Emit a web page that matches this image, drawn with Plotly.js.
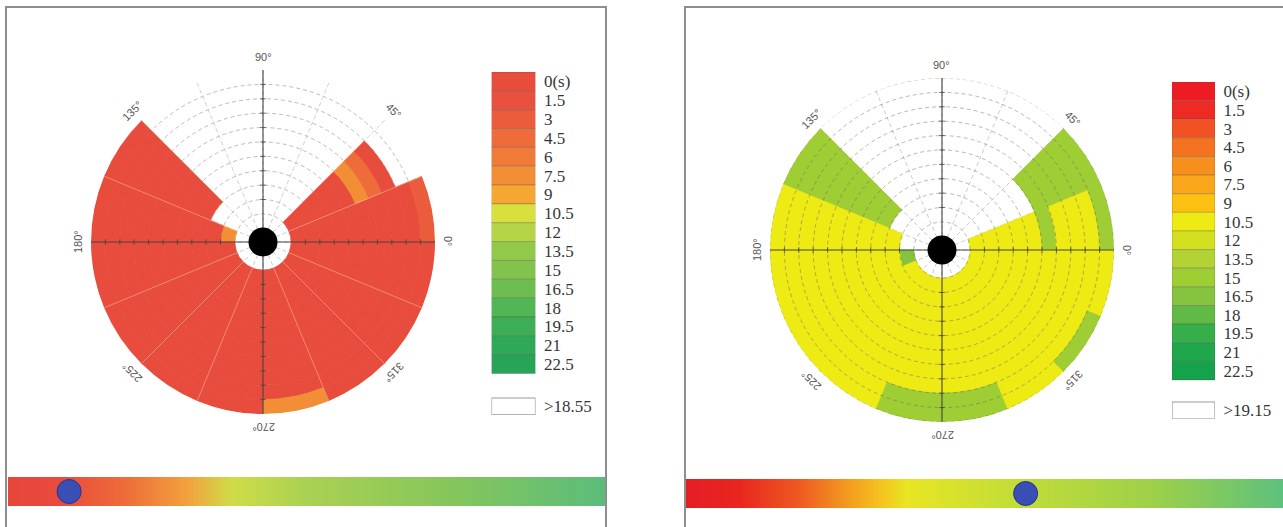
<!DOCTYPE html>
<html>
<head>
<meta charset="utf-8">
<script src="https://cdn.plot.ly/plotly-3.0.1.min.js"></script>
<style>
html,body{margin:0;padding:0;background:#fff;}
#chart{width:1283px;height:527px;}
</style>
</head>
<body>
<div id="chart"></div>
<script>
// ================= DATA =================
// angular sectors (centre angle, degrees) and radial rings
const sectorAngles = [11.25, 33.75, 56.25, 78.75, 101.25, 123.75, 146.25, 168.75,
                      191.25, 213.75, 236.25, 258.75, 281.25, 303.75, 326.25, 348.75];
const sectorWidth = 22.5;
const ringInner = [0, 1, 2, 3, 4, 5, 6, 7, 8, 9];

// legend bins (seconds)
const binStarts = [0, 1.5, 3, 4.5, 6, 7.5, 9, 10.5, 12, 13.5, 15, 16.5, 18, 19.5, 21, 22.5];
const binLabels = ['0(s)', '1.5', '3', '4.5', '6', '7.5', '9', '10.5', '12', '13.5', '15', '16.5', '18', '19.5', '21', '22.5'];

const leftThreshold = 18.55;
const rightThreshold = 19.15;

const leftColors = ['#e84c3d', '#e9503e', '#eb5c3c', '#ee6b3a', '#f07a38', '#f28f36', '#f5a733', '#d8e03e',
                    '#b5d546', '#93c94b', '#82c34e', '#6dbd50', '#52b654', '#3dae56', '#2fa957', '#27a557'];
const rightColors = ['#ed1c24', '#ee2a24', '#f05223', '#f47321', '#f78f1e', '#faa61a', '#fcc010', '#eeea14',
                     '#d3e020', '#b2d235', '#9ecd34', '#86c33f', '#62ba46', '#36ae4a', '#1ea84b', '#14a24a'];

// time per cell: one row per sector (0..337.5 deg), one value per ring (inner -> outer)
const leftTimes = [
  [1, 1, 1, 1, 1, 1, 1, 1, 1, 3.5],
  [1, 1, 1, 1, 1, 8, 5, 1, 20, 20],
  [20, 20, 20, 20, 20, 20, 20, 20, 20, 20],
  [20, 20, 20, 20, 20, 20, 20, 20, 20, 20],
  [20, 20, 20, 20, 20, 20, 20, 20, 20, 20],
  [20, 20, 20, 20, 20, 20, 20, 20, 20, 20],
  [20, 20, 1, 1, 1, 1, 1, 1, 1, 1],
  [8, 1, 1, 1, 1, 1, 1, 1, 1, 1],
  [1, 1, 1, 1, 1, 1, 1, 1, 1, 1],
  [1, 1, 1, 1, 1, 1, 1, 1, 1, 1],
  [1, 1, 1, 1, 1, 1, 1, 1, 1, 1],
  [1, 1, 1, 1, 1, 1, 1, 1, 1, 1],
  [1, 1, 1, 1, 1, 1, 1, 1, 1, 8],
  [1, 1, 1, 1, 1, 1, 1, 1, 1, 1],
  [1, 1, 1, 1, 1, 1, 1, 1, 1, 1],
  [1, 1, 1, 1, 1, 1, 1, 1, 1, 1]
];
const rightTimes = [
  [11, 11, 11, 11, 11, 15.5, 11, 11, 11, 15.5],
  [21, 21, 21, 21, 21, 15.5, 15.5, 15.5, 15.5, 15.5],
  [21, 21, 21, 21, 21, 21, 21, 21, 21, 21],
  [21, 21, 21, 21, 21, 21, 21, 21, 21, 21],
  [21, 21, 21, 21, 21, 21, 21, 21, 21, 21],
  [21, 21, 21, 21, 21, 21, 21, 21, 21, 21],
  [21, 21, 15.5, 15.5, 15.5, 15.5, 15.5, 15.5, 15.5, 15.5],
  [21, 11, 11, 11, 11, 11, 11, 11, 11, 11],
  [17, 11, 11, 11, 11, 11, 11, 11, 11, 11],
  [11, 11, 11, 11, 11, 11, 11, 11, 11, 11],
  [11, 11, 11, 11, 11, 11, 11, 11, 11, 11],
  [11, 11, 11, 11, 11, 11, 11, 11, 15.5, 15.5],
  [11, 11, 11, 11, 11, 11, 11, 11, 15.5, 15.5],
  [11, 11, 11, 11, 11, 11, 11, 11, 11, 11],
  [11, 11, 11, 11, 11, 11, 11, 11, 11, 15.5],
  [11, 11, 11, 11, 11, 11, 11, 11, 11, 11]
];

const angleTicks = [0, 45, 90, 135, 180, 225, 270, 315];

// bottom indicator bars
const barScale = [0, 22.5];
const leftMarkerValue = 2.3;
const rightMarkerValue = 12.8;
const leftBarColors = [[0, '#e8453b'], [0.09, '#e84b3c'], [0.2, '#ee6e3a'], [0.3, '#f2a13e'],
                       [0.375, '#cfdc48'], [0.5, '#aad152'], [0.75, '#84c55c'], [1, '#5bbd7b']];
const rightBarColors = [[0, '#e51d25'], [0.09, '#e8261f'], [0.19, '#ee5a22'], [0.27, '#f39a20'],
                        [0.33, '#f5c61e'], [0.37, '#e9e524'], [0.53, '#c6de35'], [0.78, '#9ed049'], [1, '#5ec17c']];

// ================= LAYOUT HELPERS =================
const W = 1283, H = 527;
const R_PX = 172;            // polar outer radius (px)
const holeR = -1.95;         // radial range start -> white hole around the centre
const rMax = ringInner.length;
const ringEdges = ringInner.concat([rMax]);

function polarDomain(cx, cy) {
  return { x: [(cx - R_PX) / W, (cx + R_PX) / W], y: [(H - cy - R_PX) / H, (H - cy + R_PX) / H] };
}
const leftDom = polarDomain(263, 242);
const rightDom = polarDomain(942, 250);

function binIndex(v) {
  let b = 0;
  binStarts.forEach((x, i) => { if (v >= x) b = i; });
  return b;
}

function cellTrace(times, colors, thr, sub) {
  const th = [], base = [], r = [], col = [];
  times.forEach((ring, s) => ring.forEach((v, k) => {
    if (v > thr) return;
    th.push(sectorAngles[s]); base.push(ringInner[k]); r.push(1);
    col.push(colors[binIndex(v)]);
  }));
  return { type: 'barpolar', subplot: sub, theta: th, r: r, base: base, width: sectorWidth,
           marker: { color: col, line: { color: col, width: 0.6 } }, hoverinfo: 'skip', showlegend: false };
}

function axisTraces(sub) {
  const tr = [];
  tr.push({ type: 'scatterpolar', subplot: sub, mode: 'lines',
    r: [rMax, holeR, rMax, null, rMax, holeR, rMax],
    theta: [0, 0, 180, null, 90, 90, 270],
    line: { color: '#444', width: 1.1 }, hoverinfo: 'skip', showlegend: false });
  const inner = ringEdges.slice(1, -1);
  tr.push({ type: 'scatterpolar', subplot: sub, mode: 'markers',
    r: inner.concat(inner), theta: inner.map(() => 0).concat(inner.map(() => 180)),
    marker: { symbol: 'line-ns', size: 4, line: { color: 'rgba(60,60,60,0.7)', width: 1 } },
    hoverinfo: 'skip', showlegend: false });
  tr.push({ type: 'scatterpolar', subplot: sub, mode: 'markers',
    r: inner.concat(inner), theta: inner.map(() => 90).concat(inner.map(() => 270)),
    marker: { symbol: 'line-ew', size: 4, line: { color: 'rgba(60,60,60,0.7)', width: 1 } },
    hoverinfo: 'skip', showlegend: false });
  tr.push({ type: 'scatterpolar', subplot: sub, mode: 'markers', r: [holeR], theta: [0],
    marker: { size: 29, color: '#000' }, hoverinfo: 'skip', showlegend: false });
  return tr;
}

// faint sector separators (left chart)
function spokeTrace(sub) {
  const r = [], th = [];
  sectorAngles.forEach(c => {
    const a = c - sectorWidth / 2;
    if (a % 90 === 0) return;
    r.push(0, rMax, null); th.push(a, a, null);
  });
  return { type: 'scatterpolar', subplot: sub, mode: 'lines', r: r, theta: th,
           line: { color: 'rgba(255,225,200,0.5)', width: 0.8 }, hoverinfo: 'skip', showlegend: false };
}

// dashed ring overlay (right chart)
function ringOverlay(sub) {
  const r = [], th = [];
  ringEdges.forEach(e => {
    for (let a = 0; a <= 360; a += 3) { r.push(e); th.push(a); }
    r.push(null); th.push(null);
  });
  return { type: 'scatterpolar', subplot: sub, mode: 'lines', r: r, theta: th,
           line: { color: 'rgba(95,95,95,0.55)', width: 0.8, dash: '4px,3px' },
           hoverinfo: 'skip', showlegend: false };
}

function polarLayout(dom, radGrid) {
  return {
    domain: dom, bgcolor: 'rgba(0,0,0,0)', barmode: 'overlay',
    radialaxis: { range: [holeR, rMax], tickvals: ringEdges, showticklabels: false, ticks: '',
                  showline: false, showgrid: radGrid, gridcolor: '#a9a9a9', griddash: '4px,3px', gridwidth: 0.8 },
    angularaxis: { tickmode: 'linear', tick0: 0, dtick: sectorWidth, showticklabels: false, ticks: '',
                   showline: false, gridcolor: '#bcbcbc', griddash: '4px,3px', gridwidth: 0.8,
                   direction: 'counterclockwise', rotation: 0 }
  };
}

function angleAnnotations(dom) {
  const cx = (dom.x[0] + dom.x[1]) / 2, cy = (dom.y[0] + dom.y[1]) / 2;
  const RL = R_PX + 13;
  return angleTicks.map(a => ({
    xref: 'paper', yref: 'paper', showarrow: false,
    x: cx + RL * Math.cos(a * Math.PI / 180) / W,
    y: cy + RL * Math.sin(a * Math.PI / 180) / H,
    xanchor: 'center', yanchor: 'middle',
    text: a + '°', textangle: 90 - a,
    font: { family: 'Liberation Sans, Arial, sans-serif', size: 11, color: '#555' }
  }));
}

function legendTraces(colors, xa, ya, thrPos) {
  return [
    { type: 'bar', xaxis: xa, yaxis: ya, x: binStarts.map(() => 0), y: binStarts.map(() => 1),
      base: binStarts.map((_, i) => i), width: 1,
      marker: { color: colors, line: { color: 'rgba(70,70,70,0.35)', width: 0.8 } },
      hoverinfo: 'skip', showlegend: false },
    { type: 'bar', xaxis: xa, yaxis: ya, x: [0], y: [0.9], base: [thrPos], width: 1,
      marker: { color: '#ffffff', line: { color: '#9a9a9a', width: 1.2 } },
      hoverinfo: 'skip', showlegend: false }
  ];
}

function legendAxes(top, bottom, left, right, thrPos, thr) {
  return {
    x: { domain: [left / W, right / W], range: [-0.5, 0.5], visible: false, fixedrange: true },
    y: { domain: [1 - bottom / H, 1 - top / H], range: [thrPos + 0.9, 0], side: 'right',
         tickmode: 'array', tickvals: binStarts.map((_, i) => i + 0.5).concat([thrPos + 0.45]),
         ticktext: binLabels.concat(['>' + thr]), ticks: 'outside', ticklen: 4, tickcolor: 'rgba(0,0,0,0)',
         showgrid: false, zeroline: false, showline: false, fixedrange: true,
         tickfont: { family: 'Liberation Serif, Times New Roman, serif', size: 17, color: '#363636' } }
  };
}

function gradientTraces(colors, xa, ya, val) {
  return [
    { type: 'scatter', xaxis: xa, yaxis: ya, mode: 'lines',
      x: [barScale[0], barScale[1], barScale[1], barScale[0], barScale[0]], y: [0, 0, 1, 1, 0],
      line: { width: 0 }, fill: 'toself', fillcolor: '#b5d050',
      fillgradient: { type: 'horizontal', colorscale: colors },
      hoverinfo: 'skip', showlegend: false },
    { type: 'scatter', xaxis: xa, yaxis: ya, mode: 'markers', x: [val], y: [0.5], cliponaxis: false,
      marker: { size: 24, color: '#3a4fb6', line: { color: '#24338a', width: 1 } },
      hoverinfo: 'skip', showlegend: false }
  ];
}

// ================= BUILD =================
const leftThrPos = 17.3, rightThrPos = 17.18;
const legL = legendAxes(72, 373.5 + (leftThrPos + 0.9 - 16) * ((373.5 - 72) / 16), 491.5, 535.5, leftThrPos, leftThreshold);
const legR = legendAxes(82, 380 + (rightThrPos + 0.9 - 16) * ((380 - 82) / 16), 1172, 1215, rightThrPos, rightThreshold);

const data = [].concat(
  [cellTrace(leftTimes, leftColors, leftThreshold, 'polar'), spokeTrace('polar')],
  axisTraces('polar'),
  [cellTrace(rightTimes, rightColors, rightThreshold, 'polar2'), ringOverlay('polar2')],
  axisTraces('polar2'),
  legendTraces(leftColors, 'x', 'y', leftThrPos),
  legendTraces(rightColors, 'x2', 'y2', rightThrPos),
  gradientTraces(leftBarColors, 'x3', 'y3', leftMarkerValue),
  gradientTraces(rightBarColors, 'x4', 'y4', rightMarkerValue)
);

const plainAxis = (dom, rng) => ({ domain: dom, range: rng, visible: false, fixedrange: true, showgrid: false, zeroline: false });

const layout = {
  width: W, height: H, margin: { l: 0, r: 0, t: 0, b: 0 },
  paper_bgcolor: '#ffffff', plot_bgcolor: 'rgba(0,0,0,0)',
  showlegend: false, hovermode: false, barmode: 'overlay',
  polar: polarLayout(leftDom, true),
  polar2: polarLayout(rightDom, false),
  xaxis: legL.x, yaxis: Object.assign(legL.y, { anchor: 'x' }),
  xaxis2: legR.x, yaxis2: Object.assign(legR.y, { anchor: 'x2' }),
  xaxis3: Object.assign(plainAxis([8 / W, 606 / W], barScale), { anchor: 'y3' }),
  yaxis3: Object.assign(plainAxis([1 - 506 / H, 1 - 477 / H], [0, 1]), { anchor: 'x3' }),
  xaxis4: Object.assign(plainAxis([686 / W, 1], barScale), { anchor: 'y4' }),
  yaxis4: Object.assign(plainAxis([1 - 508 / H, 1 - 479 / H], [0, 1]), { anchor: 'x4' }),
  annotations: angleAnnotations(leftDom).concat(angleAnnotations(rightDom)),
  shapes: [
    { type: 'rect', xref: 'paper', yref: 'paper', x0: 6 / W, x1: 606 / W, y0: -0.1, y1: 1 - 7 / H,
      line: { color: '#8e8e8e', width: 2 }, fillcolor: 'rgba(0,0,0,0)', layer: 'above' },
    { type: 'rect', xref: 'paper', yref: 'paper', x0: 685 / W, x1: 1.1, y0: -0.1, y1: 1 - 7 / H,
      line: { color: '#8e8e8e', width: 2 }, fillcolor: 'rgba(0,0,0,0)', layer: 'above' }
  ]
};

Plotly.newPlot('chart', data, layout, { staticPlot: true, displayModeBar: false });
</script>
</body>
</html>
